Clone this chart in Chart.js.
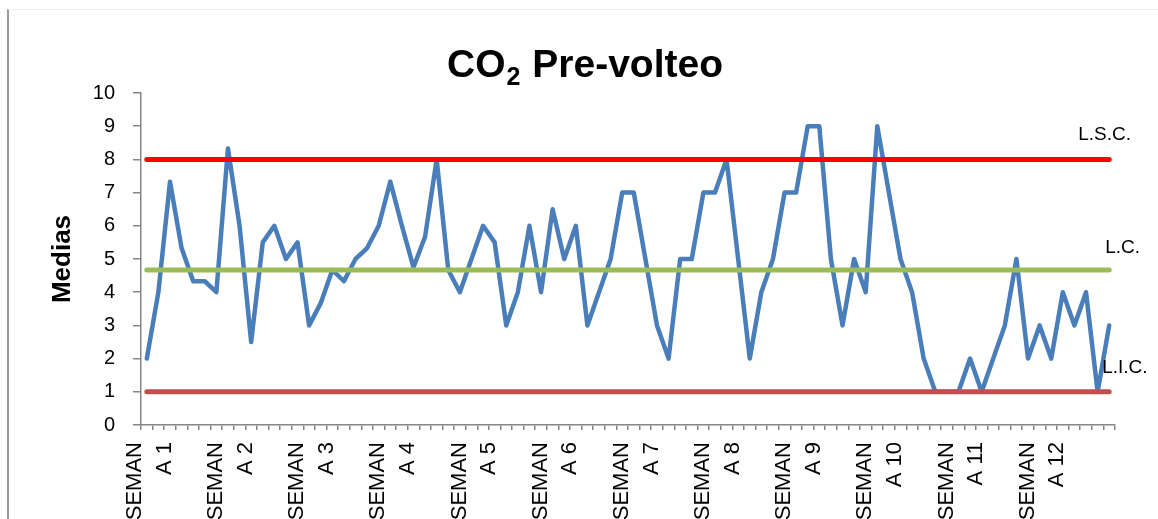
<!DOCTYPE html>
<html lang="es">
  <head>
    <meta charset="UTF-8" />
    <title>CO2 Pre-volteo</title>
    <style>
      html,
      body {
        margin: 0;
        padding: 0;
        background: #fff;
        overflow: hidden;
      }
      /* marco del grafico (borde del area de grafico) */
      .frame {
        position: absolute;
        left: 7px;
        top: 9px;
        width: 1151px;
        height: 510px;
        border-left: 2px solid #9a9a9a;
        border-top: 1px solid #eeeeee;
      }
      .chartBox {
        position: absolute;
        left: 0;
        top: 0;
      }
    </style>
  </head>
  <body>
    <div class="frame"></div>
    <div class="chartBox">
      <canvas id="chart" width="1158" height="519"></canvas>
    </div>
    <script src="https://cdn.jsdelivr.net/npm/chart.js@4.4.0/dist/chart.umd.min.js"></script>
    <script>
      // datos
      const semanas = [
        'SEMANA 1', 'SEMANA 2', 'SEMANA 3', 'SEMANA 4', 'SEMANA 5', 'SEMANA 6',
        'SEMANA 7', 'SEMANA 8', 'SEMANA 9', 'SEMANA 10', 'SEMANA 11', 'SEMANA 12',
      ];
      const diasPorSemana = 7;

      const medias = [
        2, 4, 7.33, 5.33, 4.33, 4.33, 4,
        8.33, 6, 2.5, 5.5, 6, 5, 5.5,
        3, 3.67, 4.67, 4.33, 5, 5.33, 6,
        7.33, 6, 4.75, 5.67, 8, 4.67, 4,
        5, 6, 5.5, 3, 4, 6, 4,
        6.5, 5, 6, 3, 4, 5, 7,
        7, 5, 3, 2, 5, 5, 7,
        7, 8, 5, 2, 4, 5, 7,
        7, 9, 9, 5, 3, 5, 4,
        9, 7, 5, 4, 2, 1, 1,
        1, 2, 1, 2, 3, 5, 2,
        3, 2, 4, 3, 4, 1, 3,
      ];

      const limites = [8, 4.67, 1]; // L.S.C., L.C., L.I.C.
      const limiteNombres = ['L.S.C.', 'L.C.', 'L.I.C.'];
      const limiteColores = ['#ff0000', '#9bbb59', '#c0504d'];

      const yMin = 0;
      const yMax = 10;
      const yPaso = 1;

      const FONT = '"Liberation Sans", Arial, sans-serif';

      // etiqueta "SEMANA n" partida en dos lineas como en Excel
      const labels = medias.map((_, i) => {
        if (i % diasPorSemana !== 0) return '';
        const s = semanas[i / diasPorSemana];
        return [s.slice(0, 5), s.slice(5)];
      });

      const datasetsLimites = limites.map((v, k) => ({
        label: limiteNombres[k],
        data: medias.map(() => v),
        borderColor: limiteColores[k],
        borderWidth: 5,
        borderCapStyle: 'round',
        pointRadius: 0,
        fill: false,
      }));

      // titulo con subindice
      const tituloPlugin = {
        id: 'tituloCO2',
        afterDraw(chart) {
          const ctx = chart.ctx;
          ctx.save();
          ctx.fillStyle = '#000';
          ctx.textBaseline = 'alphabetic';
          const big = 'bold 39px ' + FONT;
          const small = 'bold 25px ' + FONT;
          ctx.font = big;
          const w1 = ctx.measureText('CO').width;
          const w3 = ctx.measureText(' Pre-volteo').width;
          ctx.font = small;
          const w2 = ctx.measureText('2').width + 2;
          let x = 585 - (w1 + w2 + w3) / 2;
          const y = 77;
          ctx.font = big;
          ctx.fillText('CO', x, y);
          x += w1 + 1;
          ctx.font = small;
          ctx.fillText('2', x, y + 8);
          x += w2 - 1;
          ctx.font = big;
          ctx.fillText(' Pre-volteo', x, y);
          ctx.restore();
        },
      };

      // etiquetas L.S.C. / L.C. / L.I.C. junto al ultimo punto
      const desplaz = [
        [-31, -25],
        [-4, -22],
        [-7, -24],
      ];
      const etiquetasPlugin = {
        id: 'etiquetasLimites',
        afterDatasetsDraw(chart) {
          const ctx = chart.ctx;
          ctx.save();
          ctx.font = '19px ' + FONT;
          ctx.fillStyle = '#000';
          ctx.textBaseline = 'middle';
          ctx.textAlign = 'left';
          limiteNombres.forEach((nombre, k) => {
            const pts = chart.getDatasetMeta(k).data;
            const p = pts[pts.length - 1];
            ctx.fillText(nombre, p.x + desplaz[k][0], p.y + desplaz[k][1]);
          });
          ctx.restore();
        },
      };

      new Chart(document.getElementById('chart'), {
        type: 'line',
        data: {
          labels: labels,
          datasets: [
            ...datasetsLimites,
            {
              label: 'Medias',
              data: medias,
              borderColor: '#4a7ebb',
              borderWidth: 4.5,
              borderJoinStyle: 'round',
              borderCapStyle: 'round',
              pointRadius: 0,
              tension: 0,
              fill: false,
            },
          ],
        },
        options: {
          responsive: false,
          animation: false,
          layout: {
            padding: { top: 93, right: 43, left: 0, bottom: 0 },
          },
          plugins: {
            legend: { display: false },
            title: { display: false },
            tooltip: { enabled: false },
          },
          scales: {
            x: {
              offset: true,
              afterFit(scale) {
                scale.height = 94;
              },
              grid: {
                offset: true,
                drawOnChartArea: false,
                drawTicks: true,
                tickLength: 5,
                color: '#868686',
                lineWidth: 1.5,
              },
              border: { color: '#868686', width: 1.5 },
              ticks: {
                autoSkip: false,
                minRotation: 90,
                maxRotation: 90,
                padding: 12,
                labelOffset: -12,
                color: '#000',
                font: { family: FONT, size: 22, lineHeight: 1.35 },
              },
            },
            y: {
              min: yMin,
              max: yMax,
              afterFit(scale) {
                scale.width = 141;
              },
              grid: {
                drawOnChartArea: false,
                tickLength: 8,
                color: '#868686',
                lineWidth: 1.5,
              },
              border: { color: '#868686', width: 1.5 },
              ticks: {
                stepSize: yPaso,
                padding: 18,
                color: '#000',
                font: { family: FONT, size: 20 },
              },
              title: {
                display: true,
                text: 'Medias',
                color: '#000',
                padding: { top: 47, bottom: 0 },
                font: { family: FONT, size: 26, weight: 'bold' },
              },
            },
          },
        },
        plugins: [tituloPlugin, etiquetasPlugin],
      });
    </script>
  </body>
</html>
